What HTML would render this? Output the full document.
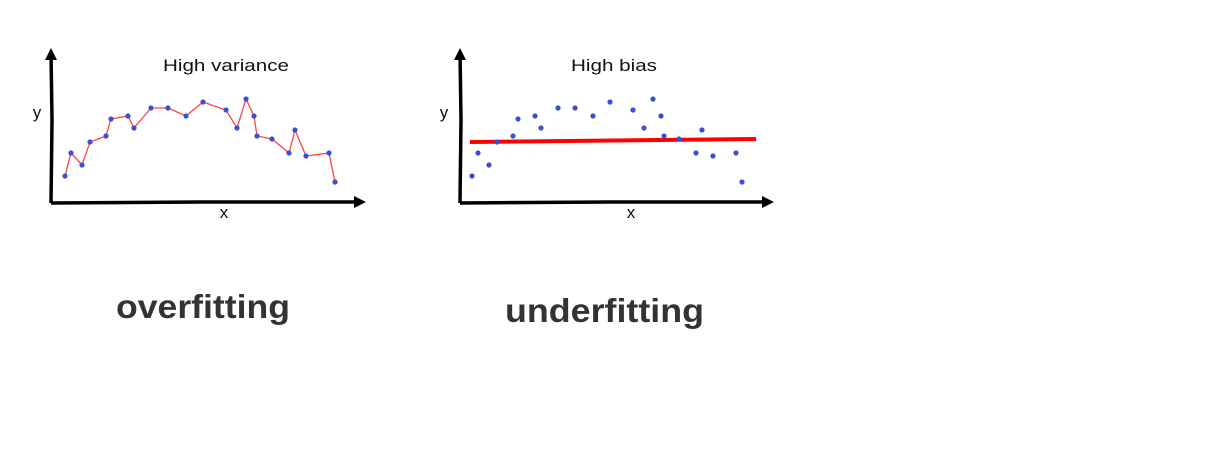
<!DOCTYPE html>
<html><head><meta charset="utf-8"><style>
html,body{margin:0;padding:0;background:#fff;width:1212px;height:472px;overflow:hidden}
svg{display:block}
</style></head><body>
<svg id="s" width="1212" height="472" xmlns="http://www.w3.org/2000/svg">
<g id="left">
 <path d="M51,52 L52,120 L51,203" stroke="#000" stroke-width="3.5" fill="none"/>
 <path d="M45,60 L51,48 L57,60 Z" fill="#000"/>
 <path d="M51,203 L200,202 L358,202" stroke="#000" stroke-width="3.5" fill="none"/>
 <path d="M354,196 L366,202 L354,208 Z" fill="#000"/>
 <text x="163" y="71" font-family="Liberation Sans, sans-serif" font-size="17" fill="#111" textLength="126" lengthAdjust="spacingAndGlyphs">High variance</text>
 <text x="37" y="118" font-family="Liberation Sans, sans-serif" font-size="17" text-anchor="middle" fill="#111">y</text>
 <text x="224" y="218" font-family="Liberation Sans, sans-serif" font-size="17" text-anchor="middle" fill="#111">x</text>
</g>
<g id="right">
 <path d="M460,52 L461,120 L460,203" stroke="#000" stroke-width="3.5" fill="none"/>
 <path d="M454,60 L460,48 L466,60 Z" fill="#000"/>
 <path d="M460,203 L610,202 L766,202" stroke="#000" stroke-width="3.5" fill="none"/>
 <path d="M762,196 L774,202 L762,208 Z" fill="#000"/>
 <text x="571" y="71" font-family="Liberation Sans, sans-serif" font-size="17" fill="#111" textLength="86" lengthAdjust="spacingAndGlyphs">High bias</text>
 <text x="444" y="118" font-family="Liberation Sans, sans-serif" font-size="17" text-anchor="middle" fill="#111">y</text>
 <text x="631" y="218" font-family="Liberation Sans, sans-serif" font-size="17" text-anchor="middle" fill="#111">x</text>
</g>
<text x="116" y="318" font-family="Liberation Sans, sans-serif" font-weight="bold" font-size="33" fill="#333" textLength="174" lengthAdjust="spacingAndGlyphs">overfitting</text>
<text x="505" y="322" font-family="Liberation Sans, sans-serif" font-weight="bold" font-size="33" fill="#333" textLength="199" lengthAdjust="spacingAndGlyphs">underfitting</text>
</svg>
<script>
const xs=[14,20,31,39,55,60,77,83,100,117,135,152,175,186,195,203,206,221,238,244,255,278,284];
const ys=[27,50,38,61,67,84,87,75,95,95,87,101,93,75,104,87,67,64,50,73,47,50,21];
const fitStart=[10,61];
const fitEnd=[296,64];
const NS='http://www.w3.org/2000/svg';
function sx(ox,v){return ox+v;}
function sy(oy,v){return oy-v;}
const L=document.getElementById('left'),R=document.getElementById('right');
const pts=xs.map((x,i)=>sx(51,x)+','+sy(203,ys[i])).join(' ');
const pl=document.createElementNS(NS,'polyline');
pl.setAttribute('points',pts);pl.setAttribute('fill','none');pl.setAttribute('stroke','#f44');pl.setAttribute('stroke-width','1.3');


L.appendChild(pl);
const fl=document.createElementNS(NS,'line');
fl.setAttribute('x1',sx(460,fitStart[0]));fl.setAttribute('y1',sy(203,fitStart[1]));
fl.setAttribute('x2',sx(460,fitEnd[0]));fl.setAttribute('y2',sy(203,fitEnd[1]));
fl.setAttribute('stroke','#f00');fl.setAttribute('stroke-width','4');


R.appendChild(fl);
xs.forEach((x,i)=>{
 const c=document.createElementNS(NS,'circle');
 c.setAttribute('cx',sx(51,x));c.setAttribute('cy',sy(203,ys[i]));c.setAttribute('r','2.6');c.setAttribute('fill','#3a4fd8');
 
 
 L.appendChild(c);
 const d=document.createElementNS(NS,'circle');
 d.setAttribute('cx',sx(458,x));d.setAttribute('cy',sy(203,ys[i]));d.setAttribute('r','2.6');d.setAttribute('fill','#3a4fd8');
 
 
 R.appendChild(d);
});
</script>
</body></html>
